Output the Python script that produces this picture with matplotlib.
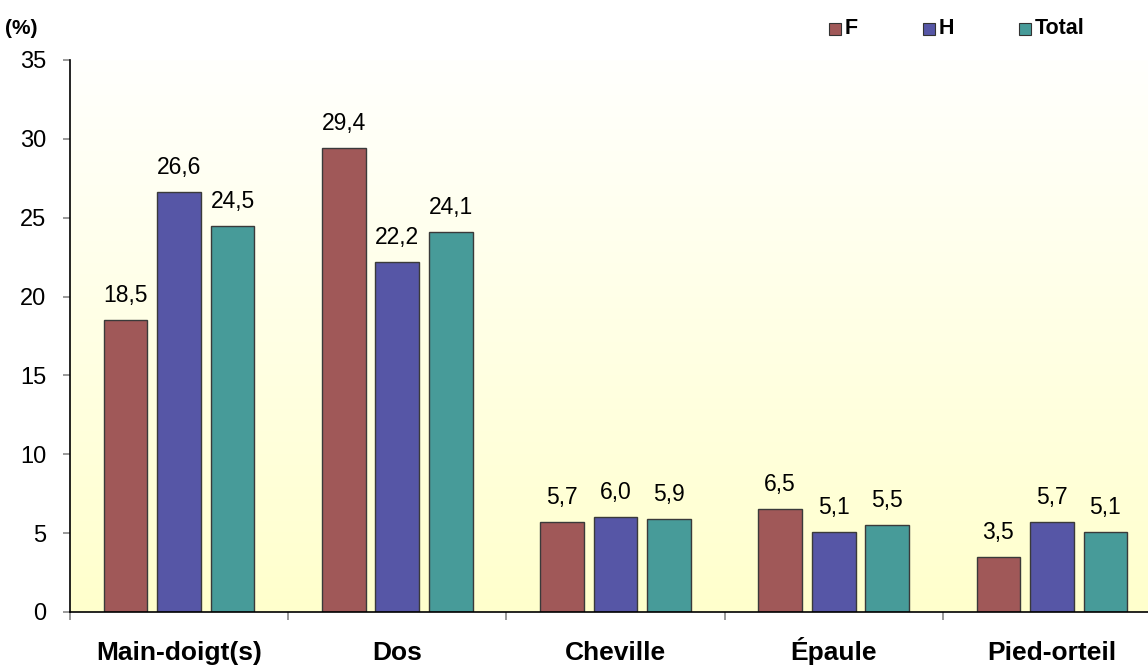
import numpy as np
import matplotlib.pyplot as plt
from matplotlib.patches import Rectangle
from matplotlib.colors import LinearSegmentedColormap

# data
categories = ["Main-doigt(s)", "Dos", "Cheville", "Épaule", "Pied-orteil"]
series = ["F", "H", "Total"]
values_f = [18.5, 29.4, 5.7, 6.5, 3.5]
values_h = [26.6, 22.2, 6.0, 5.1, 5.7]
values_total = [24.5, 24.1, 5.9, 5.5, 5.1]
yticks = [0, 5, 10, 15, 20, 25, 30, 35]

colors = ["#A05858", "#5656A6", "#479B99"]

plt.rcParams["font.family"] = ["Liberation Sans", "DejaVu Sans"]

fig = plt.figure(figsize=(11.48, 6.66), dpi=100)
ax = fig.add_axes([70 / 1148, 1 - 612 / 666, 1091 / 1148, 552 / 666])

# pale yellow gradient behind the bars (white at top)
grad = np.linspace(0, 1, 256).reshape(-1, 1)
cmap = LinearSegmentedColormap.from_list("bg", ["#FFFFFD", "#FFFFCC"])
ax.imshow(grad, aspect="auto", cmap=cmap, extent=[-0.5, 4.5, 0, 35],
          zorder=0, origin="upper")
ax.set_ylim(0, 35)
ax.set_xlim(-0.5, 4.5)

x = np.arange(len(categories))
width = 0.2
step = 0.245
for i, (vals, name) in enumerate(zip([values_f, values_h, values_total], series)):
    pos = x + (i - 1) * step
    bars = ax.bar(pos, vals, width, color=colors[i], edgecolor="#3a3a3a",
                  linewidth=1.0, zorder=2, label=name)
    for b, v in zip(bars, vals):
        ax.annotate(f"{v:.1f}".replace(".", ","),
                    (b.get_x() + b.get_width() / 2, v),
                    xytext=(0, 13), textcoords="offset points",
                    ha="center", va="baseline", fontsize=16.5, zorder=3)

ax.set_yticks(yticks)
ax.set_yticklabels([str(t) for t in yticks], fontsize=17)
ax.tick_params(axis="y", length=5, color="#888888", pad=12, width=1.2)

# category separators as ticks, names placed on a common baseline
ax.set_xticks(np.arange(-0.5, 5.0, 1.0))
ax.set_xticklabels([])
ax.tick_params(axis="x", length=6, color="#888888", width=1.2)
for xi, cat in zip(x, categories):
    ax.annotate(cat, (xi, 0), xycoords=("data", "axes fraction"),
                xytext=(0, -34.5), textcoords="offset points",
                ha="center", va="baseline", fontsize=19, fontweight="bold",
                annotation_clip=False)

for s in ["top", "right"]:
    ax.spines[s].set_visible(False)
ax.spines["left"].set_linewidth(1.2)
ax.spines["bottom"].set_linewidth(1.2)

fig.text(5 / 1148, 1 - 29 / 666, "(%)", fontsize=15, fontweight="bold",
         va="center", ha="left")

# legend drawn by hand at top right
leg_x = [829, 923, 1019]
for lx, name, c in zip(leg_x, series, colors):
    fig.patches.append(Rectangle((lx / 1148, 1 - 35 / 666), 12 / 1148, 12 / 666,
                                 transform=fig.transFigure, facecolor=c,
                                 edgecolor="#333333", linewidth=0.8))
    fig.text((lx + 16) / 1148, 1 - 29 / 666, name, fontsize=15.5,
             fontweight="bold", va="center", ha="left")

plt.savefig("out.png", dpi=100)
